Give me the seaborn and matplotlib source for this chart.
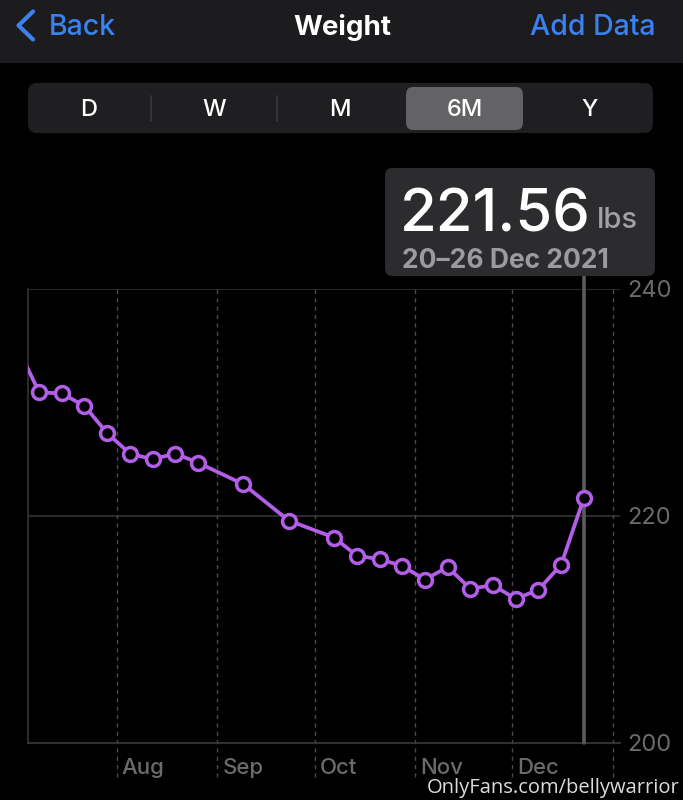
import matplotlib
matplotlib.use("Agg")
import matplotlib.pyplot as plt
import matplotlib.transforms as mtransforms
from matplotlib.patches import FancyBboxPatch, Rectangle
from matplotlib.lines import Line2D
import seaborn as sns
import pandas as pd

# ---------------- data ----------------
week_centers = [
    "2021-07-01", "2021-07-08", "2021-07-15", "2021-07-22", "2021-07-29",
    "2021-08-05", "2021-08-12", "2021-08-19", "2021-08-26", "2021-09-09",
    "2021-09-23", "2021-10-07", "2021-10-14", "2021-10-21", "2021-10-28",
    "2021-11-04", "2021-11-11", "2021-11-18", "2021-11-25", "2021-12-02",
    "2021-12-09", "2021-12-16", "2021-12-23",
]
weights = [
    235.1, 230.9, 230.8, 229.7, 227.3,
    225.5, 225.0, 225.5, 224.7, 222.8,
    219.6, 218.1, 216.5, 216.2, 215.6,
    214.4, 215.5, 213.6, 213.9, 212.7,
    213.5, 215.7, 221.56,
]
month_starts = ["2021-08-01", "2021-09-01", "2021-10-01", "2021-11-01", "2021-12-01", "2022-01-01"]
month_labels = ["Aug", "Sep", "Oct", "Nov", "Dec", ""]
y_ticks = [200, 220, 240]
segments = ["D", "W", "M", "6M", "Y"]
selected_segment = "6M"
selected_week = "2021-12-23"
tooltip_value = "221.56"
tooltip_unit = "lbs"
tooltip_range = "20–26 Dec 2021"

df = pd.DataFrame({"date": pd.to_datetime(week_centers), "weight": weights})

# ---------------- style ----------------
sns.set_theme(style="dark")
plt.rcParams["font.family"] = ["Inter", "DejaVu Sans"]

W, H = 683, 800
fig = plt.figure(figsize=(W / 100, H / 100), dpi=100, facecolor="black")

def fx(px):
    return px / W

def fy(py):
    return 1 - py / H

BLUE = "#3a82f0"
PURPLE = "#b35ee8"
GRID = "#333335"
LABEL = "#6b6b6e"

# header bar
fig.patches.append(Rectangle((0, fy(63)), 1, 63 / H, transform=fig.transFigure,
                             facecolor="#1c1c1e", edgecolor="none", zorder=0))
# back chevron
fig.lines.append(Line2D([fx(33), fx(18.5), fx(33)], [fy(11.5), fy(25.5), fy(39.5)],
                        transform=fig.transFigure, color=BLUE, lw=3.0,
                        solid_capstyle="round", solid_joinstyle="round"))
fig.text(fx(49), fy(35), "Back", color=BLUE, fontsize=20.5, fontweight="medium",
         ha="left", va="baseline")
fig.text(fx(342), fy(35), "Weight", color="white", fontsize=20, fontweight="bold",
         ha="center", va="baseline")
fig.text(fx(655), fy(35), "Add Data", color=BLUE, fontsize=20.5, fontweight="medium",
         ha="right", va="baseline")

# segmented control
fig.patches.append(FancyBboxPatch((fx(28), fy(133)), fx(653) - fx(28), 50 / H,
                                  boxstyle="round,pad=0,rounding_size=0.012",
                                  transform=fig.transFigure, facecolor="#1f1f21",
                                  edgecolor="none", zorder=0))
seg_centers = [89, 214, 340, 465, 590]
for lab, cx in zip(segments, seg_centers):
    if lab == selected_segment:
        fig.patches.append(FancyBboxPatch((fx(406), fy(130)), fx(523) - fx(406), 43 / H,
                                          boxstyle="round,pad=0,rounding_size=0.01",
                                          transform=fig.transFigure, facecolor="#636366",
                                          edgecolor="none", zorder=1))
    fig.text(fx(cx), fy(116), lab, color="white", fontsize=17, fontweight="medium",
             ha="center", va="baseline", zorder=2)
for sx in [151, 277]:
    fig.lines.append(Line2D([fx(sx), fx(sx)], [fy(96), fy(121)], transform=fig.transFigure,
                            color="#3a3a3c", lw=1.2))

# ---------------- chart ----------------
ax = fig.add_axes([fx(28), fy(743), fx(620) - fx(28), (743 - 289) / H])
ax.set_facecolor("black")

sns.lineplot(data=df, x="date", y="weight", ax=ax, color=PURPLE, lw=2.7,
             marker="o", markersize=10, markerfacecolor="black",
             markeredgecolor=PURPLE, markeredgewidth=2.5, zorder=5)

ax.set_xlim(pd.Timestamp("2021-07-04 14:00"), pd.Timestamp("2022-01-03 04:00"))
ax.set_ylim(200, 240)

for s in ["top", "right"]:
    ax.spines[s].set_visible(False)
ax.spines["left"].set_color(GRID)
ax.spines["left"].set_linewidth(1.2)
ax.spines["bottom"].set_color("#3a3a3c")
ax.spines["bottom"].set_linewidth(1.2)

for yv in y_ticks[1:]:
    ax.axhline(yv, color=GRID, lw=1.2, zorder=1)

# month dashed lines
for m in month_starts:
    ax.axvline(pd.Timestamp(m), ymin=-0.075, ymax=1, color="#4a4a4c", lw=1.0,
               ls=(0, (3, 3)), clip_on=False, zorder=1)

# selection line
ax.axvline(pd.Timestamp(selected_week), ymin=0, ymax=1 + (289 - 276) / 454,
           color="#5b5b5e", lw=2.6, clip_on=False, zorder=4)

# x tick labels
ax.set_xticks(pd.to_datetime(month_starts))
ax.set_xticklabels(month_labels)
ax.tick_params(axis="x", length=0, pad=11, labelsize=16, labelcolor=LABEL)
offset = mtransforms.ScaledTranslation(5 / 100, 0, fig.dpi_scale_trans)
for lbl in ax.get_xticklabels():
    lbl.set_horizontalalignment("left")
    lbl.set_fontweight("medium")
    lbl.set_transform(lbl.get_transform() + offset)

# y tick labels right
ax.yaxis.tick_right()
ax.set_yticks(y_ticks)
ax.set_yticklabels([str(v) for v in y_ticks])
ax.tick_params(axis="y", length=0, pad=5, labelsize=17, labelcolor=LABEL)
ax.set_xlabel("")
ax.set_ylabel("")
ax.grid(False)

# ---------------- tooltip ----------------
fig.patches.append(FancyBboxPatch((fx(385), fy(276)), fx(655) - fx(385), (276 - 168) / H,
                                  boxstyle="round,pad=0,rounding_size=0.01",
                                  transform=fig.transFigure, facecolor="#2c2c2e",
                                  edgecolor="none", zorder=6))
fig.text(fx(400), fy(232), tooltip_value, color="white", fontsize=43, fontweight="medium",
         ha="left", va="baseline", zorder=7)
fig.text(fx(597), fy(228), tooltip_unit, color="#a0a0a5", fontsize=21, fontweight="medium",
         ha="left", va="baseline", zorder=7)
fig.text(fx(402), fy(268), tooltip_range, color="#9a9a9f", fontsize=19, fontweight="bold",
         ha="left", va="baseline", zorder=7)

# watermark
fig.text(fx(680), fy(793), "OnlyFans.com/bellywarrior", color="#dcdcdc", fontsize=14.5,
         family=["Open Sans", "DejaVu Sans"], ha="right", va="baseline", zorder=8)

fig.savefig("out.png", dpi=100, facecolor="black")
